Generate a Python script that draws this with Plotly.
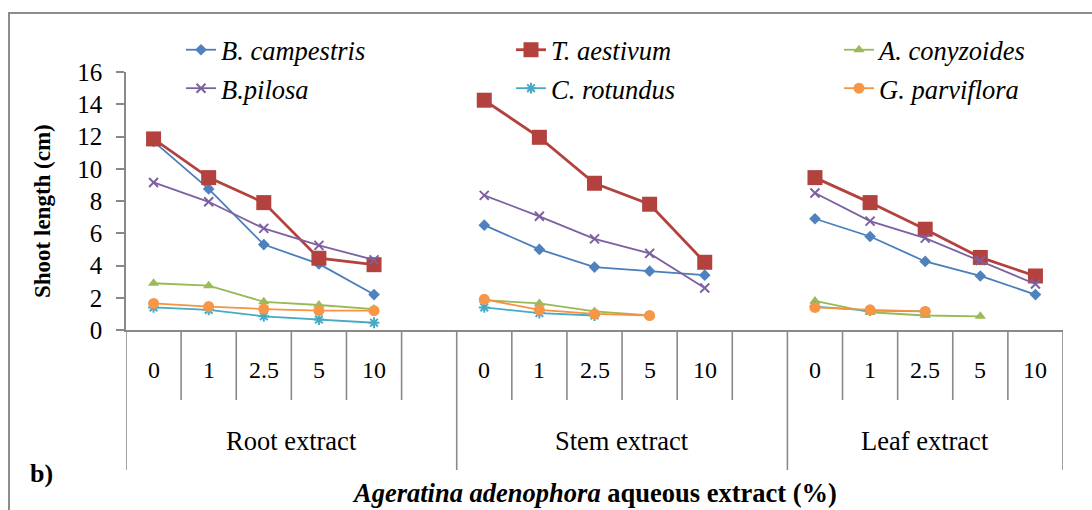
import plotly.graph_objects as go

# ---------------- data ----------------
groups = ["Root extract", "Stem extract", "Leaf extract"]
concentrations = ["0", "1", "2.5", "5", "10"]

species = ["B. campestris", "T. aestivum", "A. conyzoides",
           "B.pilosa", "C. rotundus", "G. parviflora"]

# values per group (Root, Stem, Leaf); None = not shown
b_campestris = [[11.7, 8.75, 5.3, 4.1, 2.2],
                [6.5, 5.0, 3.9, 3.65, 3.4],
                [6.9, 5.8, 4.25, 3.35, 2.2]]
t_aestivum = [[11.85, 9.45, 7.9, 4.45, 4.05],
              [14.25, 11.95, 9.1, 7.8, 4.2],
              [9.45, 7.9, 6.25, 4.5, 3.35]]
a_conyzoides = [[2.9, 2.75, 1.75, 1.55, 1.3],
                [1.85, 1.65, 1.15, 0.9, None],
                [1.8, 1.1, 0.9, 0.85, None]]
b_pilosa = [[9.15, 7.95, 6.3, 5.25, 4.35],
            [8.35, 7.05, 5.65, 4.75, 2.6],
            [8.5, 6.75, 5.7, 4.3, 2.85]]
c_rotundus = [[1.4, 1.25, 0.85, 0.65, 0.45],
              [1.4, 1.05, 0.9, None, None],
              [1.45, 1.2, 1.15, None, None]]
g_parviflora = [[1.65, 1.45, 1.3, 1.2, 1.2],
                [1.9, 1.25, 1.0, 0.9, None],
                [1.4, 1.25, 1.15, None, None]]

y_ticks = [0, 2, 4, 6, 8, 10, 12, 14, 16]

# ---------------- layout helpers ----------------
group_slots = [6, 6, 5]          # category slots per group (last slot of first two groups empty)
group_start = [0, 6, 12]

FONT = "Liberation Serif"
AXIS_GREY = "#898989"

series_values = [b_campestris, t_aestivum, a_conyzoides, b_pilosa, c_rotundus, g_parviflora]
styles = [
    dict(color="#4A7EBB", fill="#4F81BD", symbol="diamond", size=9, lw=1.8, legend="legend"),
    dict(color="#B3423F", fill="#B3423F", symbol="square", size=15, lw=2.8, legend="legend2"),
    dict(color="#98B954", fill="#9BBB59", symbol="triangle-up", size=10, lw=1.8, legend="legend3"),
    dict(color="#7D60A0", fill="#7D60A0", symbol="x-thin", size=9, lw=1.8, legend="legend"),
    dict(color="#46AAC5", fill="#46AAC5", symbol="asterisk", size=9, lw=1.8, legend="legend2"),
    dict(color="#F69240", fill="#F79646", symbol="circle", size=11, lw=1.8, legend="legend3"),
]

fig = go.Figure()

for name, vals, st in zip(species, series_values, styles):
    xs, ys = [], []
    for gi, gvals in enumerate(vals):
        for ci, v in enumerate(gvals):
            xs.append(group_start[gi] + ci)
            ys.append(v)
        xs.append(None)
        ys.append(None)
    thin = st["symbol"] in ("x-thin", "asterisk")
    marker = dict(symbol=st["symbol"], size=st["size"], color=st["fill"],
                  line=dict(color=st["color"], width=2 if thin else 0))
    fig.add_trace(go.Scatter(
        x=xs, y=ys, name=name, mode="lines+markers",
        line=dict(color=st["color"], width=st["lw"]),
        marker=marker, connectgaps=False,
        legend=st["legend"], legendgroup=name,
    ))

# ---------------- geometry (pixels) ----------------
W, H = 1092, 510
L, R, T, B = 126, 29, 72, 180
pw, ph = W - L - R, H - T - B


def px_x(px):
    return (px - L) / pw


def px_y(py):
    return 1 - (py - T) / ph


shapes = []
# outer frame
shapes.append(dict(type="rect", xref="paper", yref="paper",
                   x0=px_x(9), x1=px_x(1100), y0=px_y(520), y1=px_y(13),
                   line=dict(color="#8C8C8C", width=2), fillcolor="rgba(0,0,0,0)", layer="below"))

# category dividers
for gi, n in enumerate(group_slots):
    s = group_start[gi]
    shapes.append(dict(type="line", xref="x", yref="paper", x0=s - 0.5, x1=s - 0.5,
                       y0=0, y1=px_y(470), line=dict(color=AXIS_GREY, width=1.6)))
    for k in range(1, n):
        shapes.append(dict(type="line", xref="x", yref="paper", x0=s + k - 0.5, x1=s + k - 0.5,
                           y0=0, y1=px_y(400), line=dict(color=AXIS_GREY, width=1.6)))
last = group_start[-1] + group_slots[-1] - 0.5
shapes.append(dict(type="line", xref="x", yref="paper", x0=last, x1=last,
                   y0=0, y1=px_y(470), line=dict(color=AXIS_GREY, width=1.6)))

annotations = []
for gi, n in enumerate(group_slots):
    s = group_start[gi]
    for ci, c in enumerate(concentrations):
        annotations.append(dict(x=s + ci, y=px_y(370), xref="x", yref="paper", text=c,
                                showarrow=False, xanchor="center", yanchor="middle",
                                font=dict(family=FONT, size=24, color="black")))
    annotations.append(dict(x=s + (n - 1) / 2, y=px_y(441), xref="x", yref="paper", text=groups[gi],
                            showarrow=False, xanchor="center", yanchor="middle",
                            font=dict(family=FONT, size=26.5, color="black")))

annotations.append(dict(x=px_x(594), y=px_y(493), xref="paper", yref="paper",
                        text="<b><i>Ageratina adenophora</i> aqueous extract (%)</b>",
                        showarrow=False, xanchor="center", yanchor="middle",
                        font=dict(family=FONT, size=26.5, color="black")))
annotations.append(dict(x=px_x(41), y=px_y(473), xref="paper", yref="paper",
                        text="<b>b)</b>", showarrow=False, xanchor="center", yanchor="middle",
                        font=dict(family=FONT, size=26, color="black")))
annotations.append(dict(x=px_x(42), y=px_y(211), xref="paper", yref="paper",
                        text="<b>Shoot length (cm)</b>", textangle=-90,
                        showarrow=False, xanchor="center", yanchor="middle",
                        font=dict(family=FONT, size=23, color="black")))

legend_common = dict(orientation="v", xanchor="left", yanchor="top",
                     bgcolor="rgba(0,0,0,0)", borderwidth=0, tracegroupgap=1,
                     traceorder="grouped",
                     font=dict(family=FONT, size=26.5, color="black", style="italic"))

fig.update_layout(
    width=W, height=H,
    margin=dict(l=L, r=R, t=T, b=B, pad=0),
    paper_bgcolor="white", plot_bgcolor="white",
    showlegend=True,
    legend=dict(x=px_x(181), y=px_y(26), **legend_common),
    legend2=dict(x=px_x(511), y=px_y(26), **legend_common),
    legend3=dict(x=px_x(839), y=px_y(26), **legend_common),
    xaxis=dict(range=[-0.5, 16.5], showgrid=False, zeroline=False, showticklabels=False,
               ticks="", showline=True, linecolor=AXIS_GREY, linewidth=1.6, fixedrange=True),
    yaxis=dict(range=[0, 16], tickvals=y_ticks, showgrid=False, zeroline=False,
               showline=True, linecolor=AXIS_GREY, linewidth=1.6,
               ticks="outside", ticklen=8, tickwidth=1.6, tickcolor=AXIS_GREY,
               ticklabelstandoff=9,
               tickfont=dict(family=FONT, size=25, color="black")),
    shapes=shapes,
    annotations=annotations,
)

fig.write_html("out.html")
